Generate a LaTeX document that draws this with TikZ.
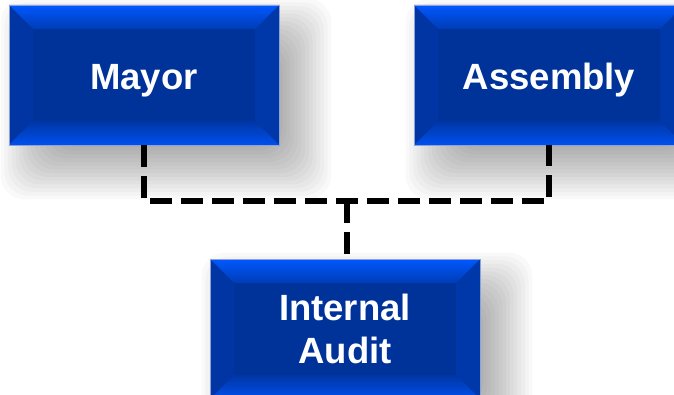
\documentclass[tikz,border=0pt]{standalone}
\usepackage{fontspec}
\setmainfont{Liberation Sans}
\usetikzlibrary{backgrounds}
\definecolor{faceblue}{HTML}{00339A}
\definecolor{topblue}{HTML}{0058FF}
\definecolor{topinner}{HTML}{003CB6}
\definecolor{botblue}{HTML}{0050EE}
\definecolor{botinner}{HTML}{0036A4}
\definecolor{sideL}{HTML}{0035A3}
\definecolor{sideR}{HTML}{0038A9}
\definecolor{edgeblue}{HTML}{8CA2D8}
\tikzset{
  orgbox/.style={
    rectangle, minimum width=270pt, minimum height=140pt, inner sep=0pt,
    fill=faceblue, draw=edgeblue, line width=0.8pt,
    text=white, align=center,
    font=\bfseries\fontsize{36.5}{43}\selectfont,
    path picture={
      \def\bw{24}
      \fill[sideL] (path picture bounding box.north west) -- ([shift={(\bw,\bw)}]path picture bounding box.north west)
        -- ([shift={(\bw,-\bw)}]path picture bounding box.south west) -- (path picture bounding box.south west) -- cycle;
      \fill[sideR] (path picture bounding box.north east) -- ([shift={(-\bw,\bw)}]path picture bounding box.north east)
        -- ([shift={(-\bw,-\bw)}]path picture bounding box.south east) -- (path picture bounding box.south east) -- cycle;
      \shade[top color=topblue, bottom color=topinner] (path picture bounding box.north west) -- (path picture bounding box.north east)
        -- ([shift={(-\bw,\bw)}]path picture bounding box.north east) -- ([shift={(\bw,\bw)}]path picture bounding box.north west) -- cycle;
      \shade[top color=botinner, bottom color=botblue] (path picture bounding box.south west) -- (path picture bounding box.south east)
        -- ([shift={(-\bw,-\bw)}]path picture bounding box.south east) -- ([shift={(\bw,-\bw)}]path picture bounding box.south west) -- cycle;
    }
  },
  oneline/.style={text height=30pt, text depth=0pt},
  dashline/.style={line width=5.5pt, dash pattern=on 22pt off 9pt, black}
}
\begin{document}
\begin{tikzpicture}[x=1pt,y=-1pt]
\useasboundingbox (0,0) rectangle (674,395);
\node[orgbox, oneline] (mayor) at (144,75) {Mayor};
\node[orgbox, oneline] (assembly) at (549,75) {Assembly};
\node[orgbox] (audit) at (345,329) {Internal\\Audit};
\coordinate (junction) at (347,201);
\begin{scope}[on background layer]
  \fill[white] (0,0) rectangle (674,395);
  \foreach \n in {mayor,assembly,audit}{
    \foreach \k in {0,...,15}{
      \pgfmathsetmacro\r{30-\k*3.75}
      \fill[black, opacity=0.025, rounded corners=24pt]
        ([shift={(22-\r,24-\r)}]\n.north west) rectangle ([shift={(22+\r,24+\r)}]\n.south east);
    }
  }
\end{scope}
\draw[dashline] (mayor.south) |- (junction) -| (assembly.south);
\draw[dashline] (junction) -- (junction |- audit.north);
\end{tikzpicture}
\end{document}
